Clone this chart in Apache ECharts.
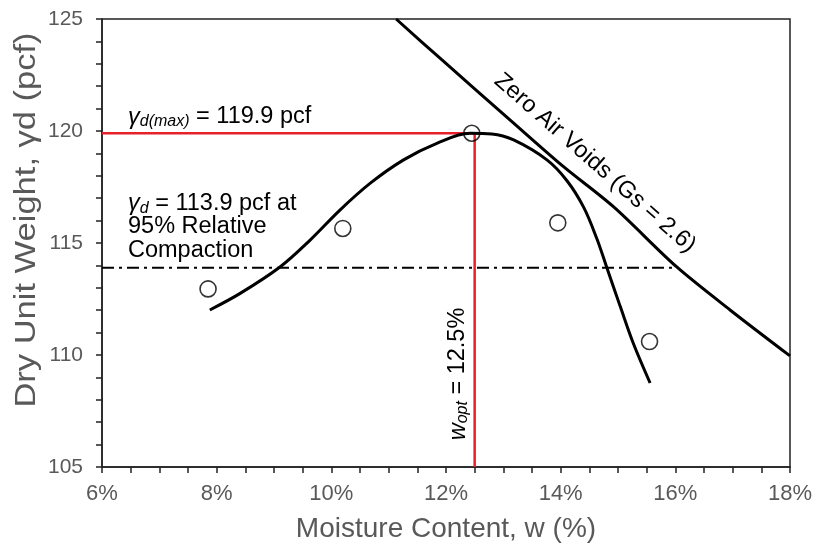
<!DOCTYPE html>
<html><head><meta charset="utf-8">
<script src="https://cdn.jsdelivr.net/npm/echarts@6/dist/echarts.min.js"></script>
<style>html,body{margin:0;padding:0;background:#fff}#c{width:817px;height:550px}</style>
</head><body><div id="c"></div>
<script>
// Test points (moisture %, dry unit weight pcf)
const testW = [7.85, 10.2, 12.45, 13.95, 15.55];
const testG = [112.95, 115.65, 119.9, 115.9, 110.6];
// Fitted compaction curve
const curveW = [7.88, 8.41, 9.11, 9.63, 10.15, 10.68, 11.26, 11.84, 12.42, 12.8, 13.18, 13.76, 14.11, 14.4, 14.63, 14.8, 15.04, 15.27, 15.56];
const curveG = [112.01, 112.75, 113.94, 115.13, 116.47, 117.67, 118.71, 119.45, 119.9, 119.87, 119.6, 118.71, 117.78, 116.6, 115.2, 113.94, 112.16, 110.5, 108.75];
// Zero air voids line
const zavW = [11.13, 11.93, 13.12, 14.05, 14.92, 16.02, 16.96, 18.0];
const zavG = [125.0, 123.17, 120.49, 118.41, 116.62, 113.94, 112.0, 109.96];
// Reference values
const gdMax = 119.9, wOpt = 12.5, gd95 = 113.9, rcEndW = 16.02;
const xTicks = [6, 8, 10, 12, 14, 16, 18];
const yTicks = [105, 110, 115, 120, 125];
const xTitle = 'Moisture Content, w (%)';
const yTitle = 'Dry Unit Weight, γd (pcf)';

const pairs = (a, b) => a.map((v, i) => [v, b[i]]);
const chart = echarts.init(document.getElementById('c'));
const FONT = '"Liberation Sans", Arial, sans-serif';
const grey = '#595959';
const AF = 23.5;
const rich = {
  g: {fontFamily: FONT, fontSize: AF, fontStyle: 'italic', fill: '#000', lineHeight: 23.5},
  s: {fontFamily: FONT, fontSize: 16, fontStyle: 'italic', fill: '#000', padding: [10, 0, 0, 0], lineHeight: 23.5},
  n: {fontFamily: FONT, fontSize: AF, fill: '#000', lineHeight: 23.5}
};
chart.setOption({
  animation: false,
  grid: {left: 102, right: 27, top: 19, bottom: 83, show: true, borderColor: '#222', borderWidth: 1.5},
  xAxis: {
    type: 'value', min: xTicks[0], max: xTicks[xTicks.length - 1], interval: 2,
    name: xTitle, nameLocation: 'middle', nameGap: 48,
    nameTextStyle: {fontFamily: FONT, fontSize: 28, color: grey},
    axisLine: {lineStyle: {color: '#222', width: 1.5}},
    axisTick: {inside: false, length: 6, lineStyle: {color: '#222', width: 1.5}},
    minorTick: {show: true, splitNumber: 4, length: 6, lineStyle: {color: '#222', width: 1.5}},
    splitLine: {show: false},
    axisLabel: {formatter: '{value}%', fontFamily: FONT, fontSize: 22, color: grey, margin: 16}
  },
  yAxis: {
    type: 'value', min: yTicks[0], max: yTicks[yTicks.length - 1], interval: 5,
    axisLine: {lineStyle: {color: '#222', width: 1.5}},
    axisTick: {inside: false, length: 6, lineStyle: {color: '#222', width: 1.5}},
    minorTick: {show: true, splitNumber: 5, length: 6, lineStyle: {color: '#222', width: 1.5}},
    splitLine: {show: false},
    axisLabel: {fontFamily: FONT, fontSize: 21, color: grey, margin: 19}
  },
  series: [
    {type: 'line', data: [[xTicks[0], gdMax], [wOpt, gdMax]], symbol: 'none', lineStyle: {color: '#e8202a', width: 2.5}, z: 1},
    {type: 'line', data: [[wOpt, gdMax], [wOpt, yTicks[0]]], symbol: 'none', lineStyle: {color: '#e8202a', width: 2.5}, z: 1},
    {type: 'line', data: [[xTicks[0], gd95], [rcEndW, gd95]], symbol: 'none', lineStyle: {color: '#000', width: 2, type: [12, 5, 3, 5]}, z: 1},
    {type: 'line', data: pairs(zavW, zavG), smooth: 0.3, symbol: 'none', lineStyle: {color: '#000', width: 3}, z: 2},
    {type: 'line', data: pairs(curveW, curveG), smooth: 0.35, symbol: 'none', lineStyle: {color: '#000', width: 3}, z: 3},
    {type: 'scatter', data: pairs(testW, testG), symbol: 'circle', symbolSize: 16,
     itemStyle: {color: 'rgba(0,0,0,0)', borderColor: '#000', borderWidth: 1.6}, z: 4}
  ],
  graphic: [
    {type: 'text', x: 27, y: 220, rotation: Math.PI / 2, scaleX: 1.19, style: {
      text: yTitle, fontFamily: FONT, fontSize: 29, fill: grey, align: 'center', verticalAlign: 'middle'}},
    {type: 'text', x: 128, y: 117, style: {
      text: '{g|γ}{s|d(max)}{n| = 119.9 pcf}', verticalAlign: 'middle', rich: rich}},
    {type: 'text', x: 128, y: 227, style: {
      text: '{g|γ}{s|d}{n| = 113.9 pcf at}\n{n|95% Relative}\n{n|Compaction}', verticalAlign: 'middle', rich: rich}},
    {type: 'text', x: 595, y: 163, rotation: -0.72, style: {
      text: 'Zero Air Voids (Gs = 2.6)', fontFamily: FONT, fontSize: 23.5, fill: '#000',
      align: 'center', verticalAlign: 'middle'}},
    {type: 'text', x: 458, y: 374, rotation: Math.PI / 2, style: {
      text: '{g|w}{s|opt}{n| = 12.5%}', align: 'center', verticalAlign: 'middle', rich: rich}}
  ]
});
</script></body></html>
